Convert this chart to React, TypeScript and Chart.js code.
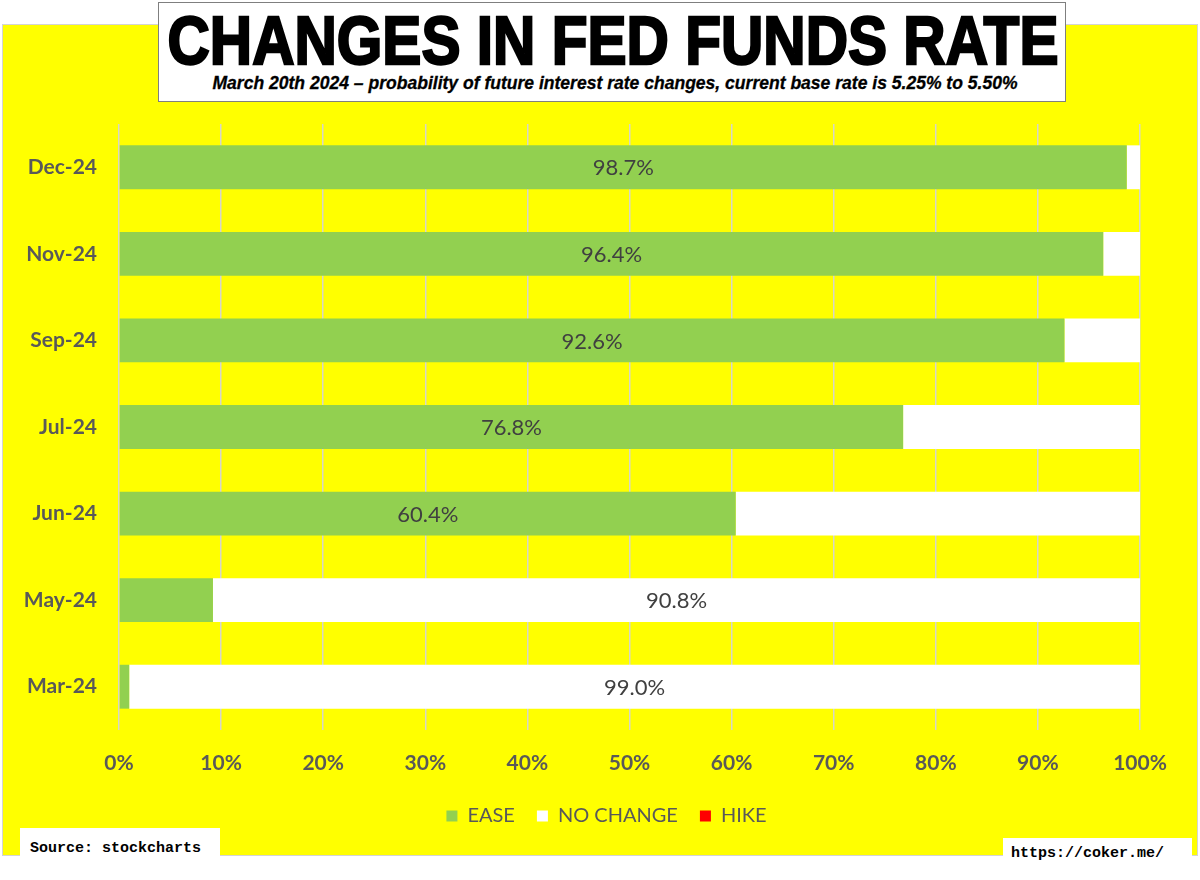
import React, { useEffect, useRef } from "react";
import { Chart, registerables } from "chart.js";

Chart.register(...registerables);

// Meeting months (top to bottom)
const categories = ["Dec-24", "Nov-24", "Sep-24", "Jul-24", "Jun-24", "May-24", "Mar-24"];
// Probability of a cut, no change, or a hike (percent)
const easeValues = [98.7, 96.4, 92.6, 76.8, 60.4, 9.2, 1.0];
const noChangeValues = [1.3, 3.6, 7.4, 23.2, 39.6, 90.8, 99.0];
const hikeValues = [0, 0, 0, 0, 0, 0, 0];
// Axis ticks
const xTicks = [0, 10, 20, 30, 40, 50, 60, 70, 80, 90, 100];

const TEXT_GREY = "#595959";
const FONT = "Lato, 'Open Sans', sans-serif";

// Writes the dominant probability in the middle of its segment
const segmentLabels = {
  id: "segmentLabels",
  afterDatasetsDraw(chart: any) {
    const ctx = chart.ctx;
    ctx.save();
    ctx.font = `22px ${FONT}`;
    ctx.fillStyle = "#404040";
    ctx.textAlign = "center";
    ctx.textBaseline = "middle";
    chart.data.datasets.forEach((ds: any, di: number) => {
      const meta = chart.getDatasetMeta(di);
      meta.data.forEach((bar: any, i: number) => {
        const v = ds.data[i];
        if (v > 50) {
          const cx = (bar.x + bar.base) / 2;
          ctx.fillText(v.toFixed(1) + "%", cx, bar.y + 1);
        }
      });
    });
    ctx.restore();
  },
};

// Centres the legend under the whole frame rather than the plot
const legendShift = {
  id: "legendShift",
  afterLayout(chart: any) {
    const lg = chart.legend;
    if (lg) {
      lg.left += 35;
      lg.right += 35;
    }
  },
};

function FedFundsChart() {
  const ref = useRef<HTMLCanvasElement | null>(null);

  useEffect(() => {
    if (!ref.current) return;
    const chart = new Chart(ref.current, {
      type: "bar",
      data: {
        labels: categories,
        datasets: [
          { label: "EASE", data: easeValues, backgroundColor: "#92D050" },
          { label: "NO CHANGE", data: noChangeValues, backgroundColor: "#FFFFFF" },
          { label: "HIKE", data: hikeValues, backgroundColor: "#FF0000" },
        ],
      },
      options: {
        indexAxis: "y",
        responsive: false,
        animation: false,
        events: [],
        datasets: {
          bar: { barPercentage: 0.507, categoryPercentage: 1, borderWidth: 0 },
        },
        layout: { padding: { top: 99, right: 57, bottom: 19, left: 0 } },
        scales: {
          x: {
            stacked: true,
            min: 0,
            max: 100,
            afterFit(scale: any) {
              scale.height = 54;
            },
            afterBuildTicks(scale: any) {
              scale.ticks = xTicks.map((v) => ({ value: v }));
            },
            ticks: {
              padding: 21,
              color: TEXT_GREY,
              font: { family: FONT, size: 21, weight: "bold" },
              callback: (v: any) => v + "%",
              maxRotation: 0,
            },
            grid: { color: "#d6d6c8", lineWidth: 1.5, drawTicks: false },
            border: { display: false },
          },
          y: {
            stacked: true,
            afterFit(scale: any) {
              scale.width = 116;
            },
            ticks: {
              padding: 22,
              color: TEXT_GREY,
              font: { family: FONT, size: 21, weight: "bold" },
            },
            grid: { display: false, drawTicks: false },
            border: { display: false },
          },
        },
        plugins: {
          legend: {
            position: "bottom",
            labels: {
              boxWidth: 11,
              boxHeight: 11,
              padding: 22,
              color: TEXT_GREY,
              font: { family: FONT, size: 20 },
            },
          },
          tooltip: { enabled: false },
          title: { display: false },
        },
      },
      plugins: [segmentLabels, legendShift],
    } as any);
    return () => chart.destroy();
  }, []);

  return (
    <canvas
      ref={ref}
      width={1194}
      height={830}
      style={{
        position: "absolute",
        left: 3,
        top: 25,
        width: 1194,
        height: 830,
        background: "#FFFF00",
        boxShadow: "0 0 0 1px #d4d4d4",
      }}
    />
  );
}

export default function App() {
  return (
    <div
      style={{
        position: "absolute",
        left: 0,
        top: 0,
        width: 1200,
        height: 880,
        background: "#ffffff",
        overflow: "hidden",
      }}
    >
      <FedFundsChart />
      <div
        style={{
          position: "absolute",
          left: 158,
          top: 2,
          width: 906,
          height: 98,
          background: "#ffffff",
          border: "1px solid #7f7f7f",
        }}
      >
        <svg width={906} height={98} style={{ display: "block" }}>
          <text
            x={454}
            y={61}
            textAnchor="middle"
            textLength={891}
            lengthAdjust="spacingAndGlyphs"
            fontFamily="'Liberation Sans Narrow', 'Liberation Sans', Arial, sans-serif"
            fontWeight="bold"
            fontSize={68}
            fill="#000"
            stroke="#000"
            strokeWidth={2.4}
          >
            CHANGES IN FED FUNDS RATE
          </text>
          <text
            x={456}
            y={86}
            textAnchor="middle"
            textLength={805}
            lengthAdjust="spacingAndGlyphs"
            fontFamily="'Liberation Sans Narrow', 'Liberation Sans', Arial, sans-serif"
            fontWeight="bold"
            fontStyle="italic"
            fontSize={18}
            fill="#000"
            stroke="#000"
            strokeWidth={0.3}
          >
            March 20th 2024 – probability of future interest rate changes, current base rate is 5.25% to 5.50%
          </text>
        </svg>
      </div>
      <div
        style={{
          position: "absolute",
          left: 20,
          top: 828,
          width: 200,
          height: 32,
          background: "#ffffff",
          fontFamily: "'Liberation Mono', 'Courier New', monospace",
          fontWeight: "bold",
          fontSize: 15,
          lineHeight: "15px",
          color: "#000",
        }}
      >
        <div style={{ position: "absolute", left: 10, top: 13 }}>Source: stockcharts</div>
      </div>
      <div
        style={{
          position: "absolute",
          left: 1003,
          top: 838,
          width: 189,
          height: 34,
          background: "#ffffff",
          fontFamily: "'Liberation Mono', 'Courier New', monospace",
          fontWeight: "bold",
          fontSize: 15,
          lineHeight: "15px",
          color: "#000",
        }}
      >
        <div style={{ position: "absolute", left: 8, top: 8 }}>https://coker.me/</div>
      </div>
    </div>
  );
}
